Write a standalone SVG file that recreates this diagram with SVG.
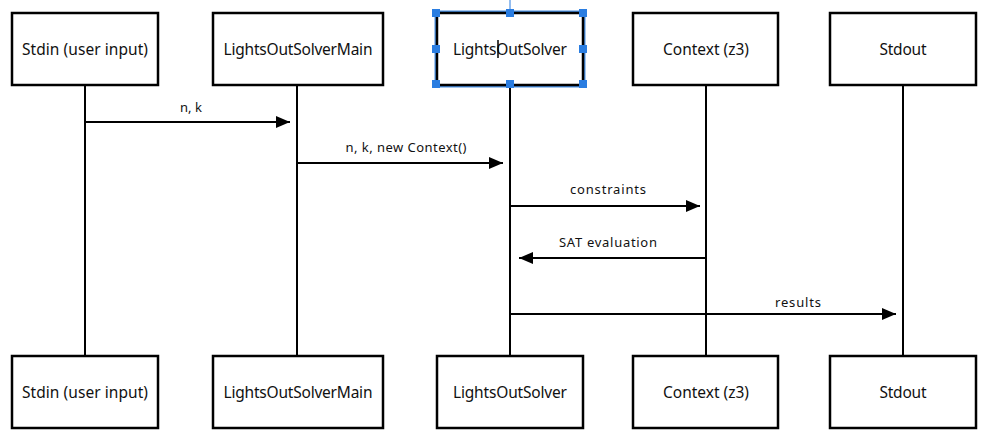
<svg xmlns="http://www.w3.org/2000/svg" width="992" height="440" viewBox="0 0 992 440">
<defs>
<style>
.box{fill:#fff;stroke:#000;stroke-width:2.5}
.life{stroke:#000;stroke-width:2}
.msg{stroke:#000;stroke-width:2;fill:none}
.t{font-family:"Noto Sans","Open Sans",sans-serif;font-size:15.5px;fill:#111;text-anchor:middle;dominant-baseline:central}
.l{font-family:"Noto Sans","Open Sans",sans-serif;font-size:13px;fill:#111;text-anchor:middle}
.h{fill:#2a7de1}
</style>
<marker id="ah" markerWidth="14" markerHeight="12" refX="14" refY="6" orient="auto" markerUnits="userSpaceOnUse">
<path d="M0,0 L14,6 L0,12 Z" fill="#000"/>
</marker>
</defs>
<rect width="992" height="440" fill="#fff"/>
<g id="lifelines">
<line class="life" x1="85" y1="85" x2="85" y2="356"/>
<line class="life" x1="297" y1="85" x2="297" y2="356"/>
<line class="life" x1="510" y1="85" x2="510" y2="356"/>
<line class="life" x1="706" y1="85" x2="706" y2="356"/>
<line class="life" x1="903" y1="85" x2="903" y2="356"/>
</g>
<g id="connectors">
<line class="msg" x1="85" y1="122" x2="290" y2="122" marker-end="url(#ah)"/>
<text class="l" x="191" y="112" textLength="22">n, k</text>
<line class="msg" x1="297" y1="163" x2="503" y2="163" marker-end="url(#ah)"/>
<text class="l" x="406" y="152" textLength="121">n, k, new Context()</text>
<line class="msg" x1="510" y1="206" x2="700" y2="206" marker-end="url(#ah)"/>
<text class="l" x="608" y="194" textLength="76">constraints</text>
<line class="msg" x1="706" y1="258" x2="519" y2="258" marker-end="url(#ah)"/>
<text class="l" x="608" y="247" textLength="98">SAT evaluation</text>
<line class="msg" x1="510" y1="314" x2="896" y2="314" marker-end="url(#ah)"/>
<text class="l" x="798" y="307" textLength="46">results</text>
</g>
<g id="stdin-top"><rect class="box" x="12" y="13" width="146" height="72"/><text class="t" x="85" y="49" textLength="126">Stdin (user input)</text></g>
<g id="main-top"><rect class="box" x="213" y="13" width="170" height="72"/><text class="t" x="298" y="49" textLength="149">LightsOutSolverMain</text></g>
<g id="solver-top"><rect x="437" y="13" width="146" height="72" fill="#fff" stroke="#4a90e2" stroke-width="5"/><rect class="box" x="437" y="13" width="146" height="72"/><text class="t" x="510" y="49" textLength="114">LightsOutSolver</text></g>
<g id="context-top"><rect class="box" x="633" y="13" width="145" height="72"/><text class="t" x="706" y="49" textLength="86">Context (z3)</text></g>
<g id="stdout-top"><rect class="box" x="830" y="13" width="146" height="72"/><text class="t" x="903" y="49" textLength="47">Stdout</text></g>
<g id="stdin-bottom"><rect class="box" x="12" y="356" width="146" height="72"/><text class="t" x="85" y="392" textLength="126">Stdin (user input)</text></g>
<g id="main-bottom"><rect class="box" x="213" y="356" width="170" height="72"/><text class="t" x="298" y="392" textLength="149">LightsOutSolverMain</text></g>
<g id="solver-bottom"><rect class="box" x="437" y="356" width="146" height="72"/><text class="t" x="510" y="392" textLength="114">LightsOutSolver</text></g>
<g id="context-bottom"><rect class="box" x="633" y="356" width="145" height="72"/><text class="t" x="706" y="392" textLength="86">Context (z3)</text></g>
<g id="stdout-bottom"><rect class="box" x="830" y="356" width="146" height="72"/><text class="t" x="903" y="392" textLength="47">Stdout</text></g>
<g id="selection">
<line x1="510" y1="0" x2="510" y2="13" stroke="#2a7de1" stroke-width="1"/>
<line x1="498" y1="40" x2="498" y2="58" stroke="#000" stroke-width="1.5"/>
<rect class="h" x="432" y="9" width="8" height="8"/>
<rect class="h" x="506" y="9" width="8" height="8"/>
<rect class="h" x="579" y="9" width="8" height="8"/>
<rect class="h" x="432" y="45" width="8" height="8"/>
<rect class="h" x="579" y="45" width="8" height="8"/>
<rect class="h" x="432" y="80" width="8" height="8"/>
<rect class="h" x="506" y="80" width="8" height="8"/>
<rect class="h" x="579" y="80" width="8" height="8"/>
</g>
</svg>
